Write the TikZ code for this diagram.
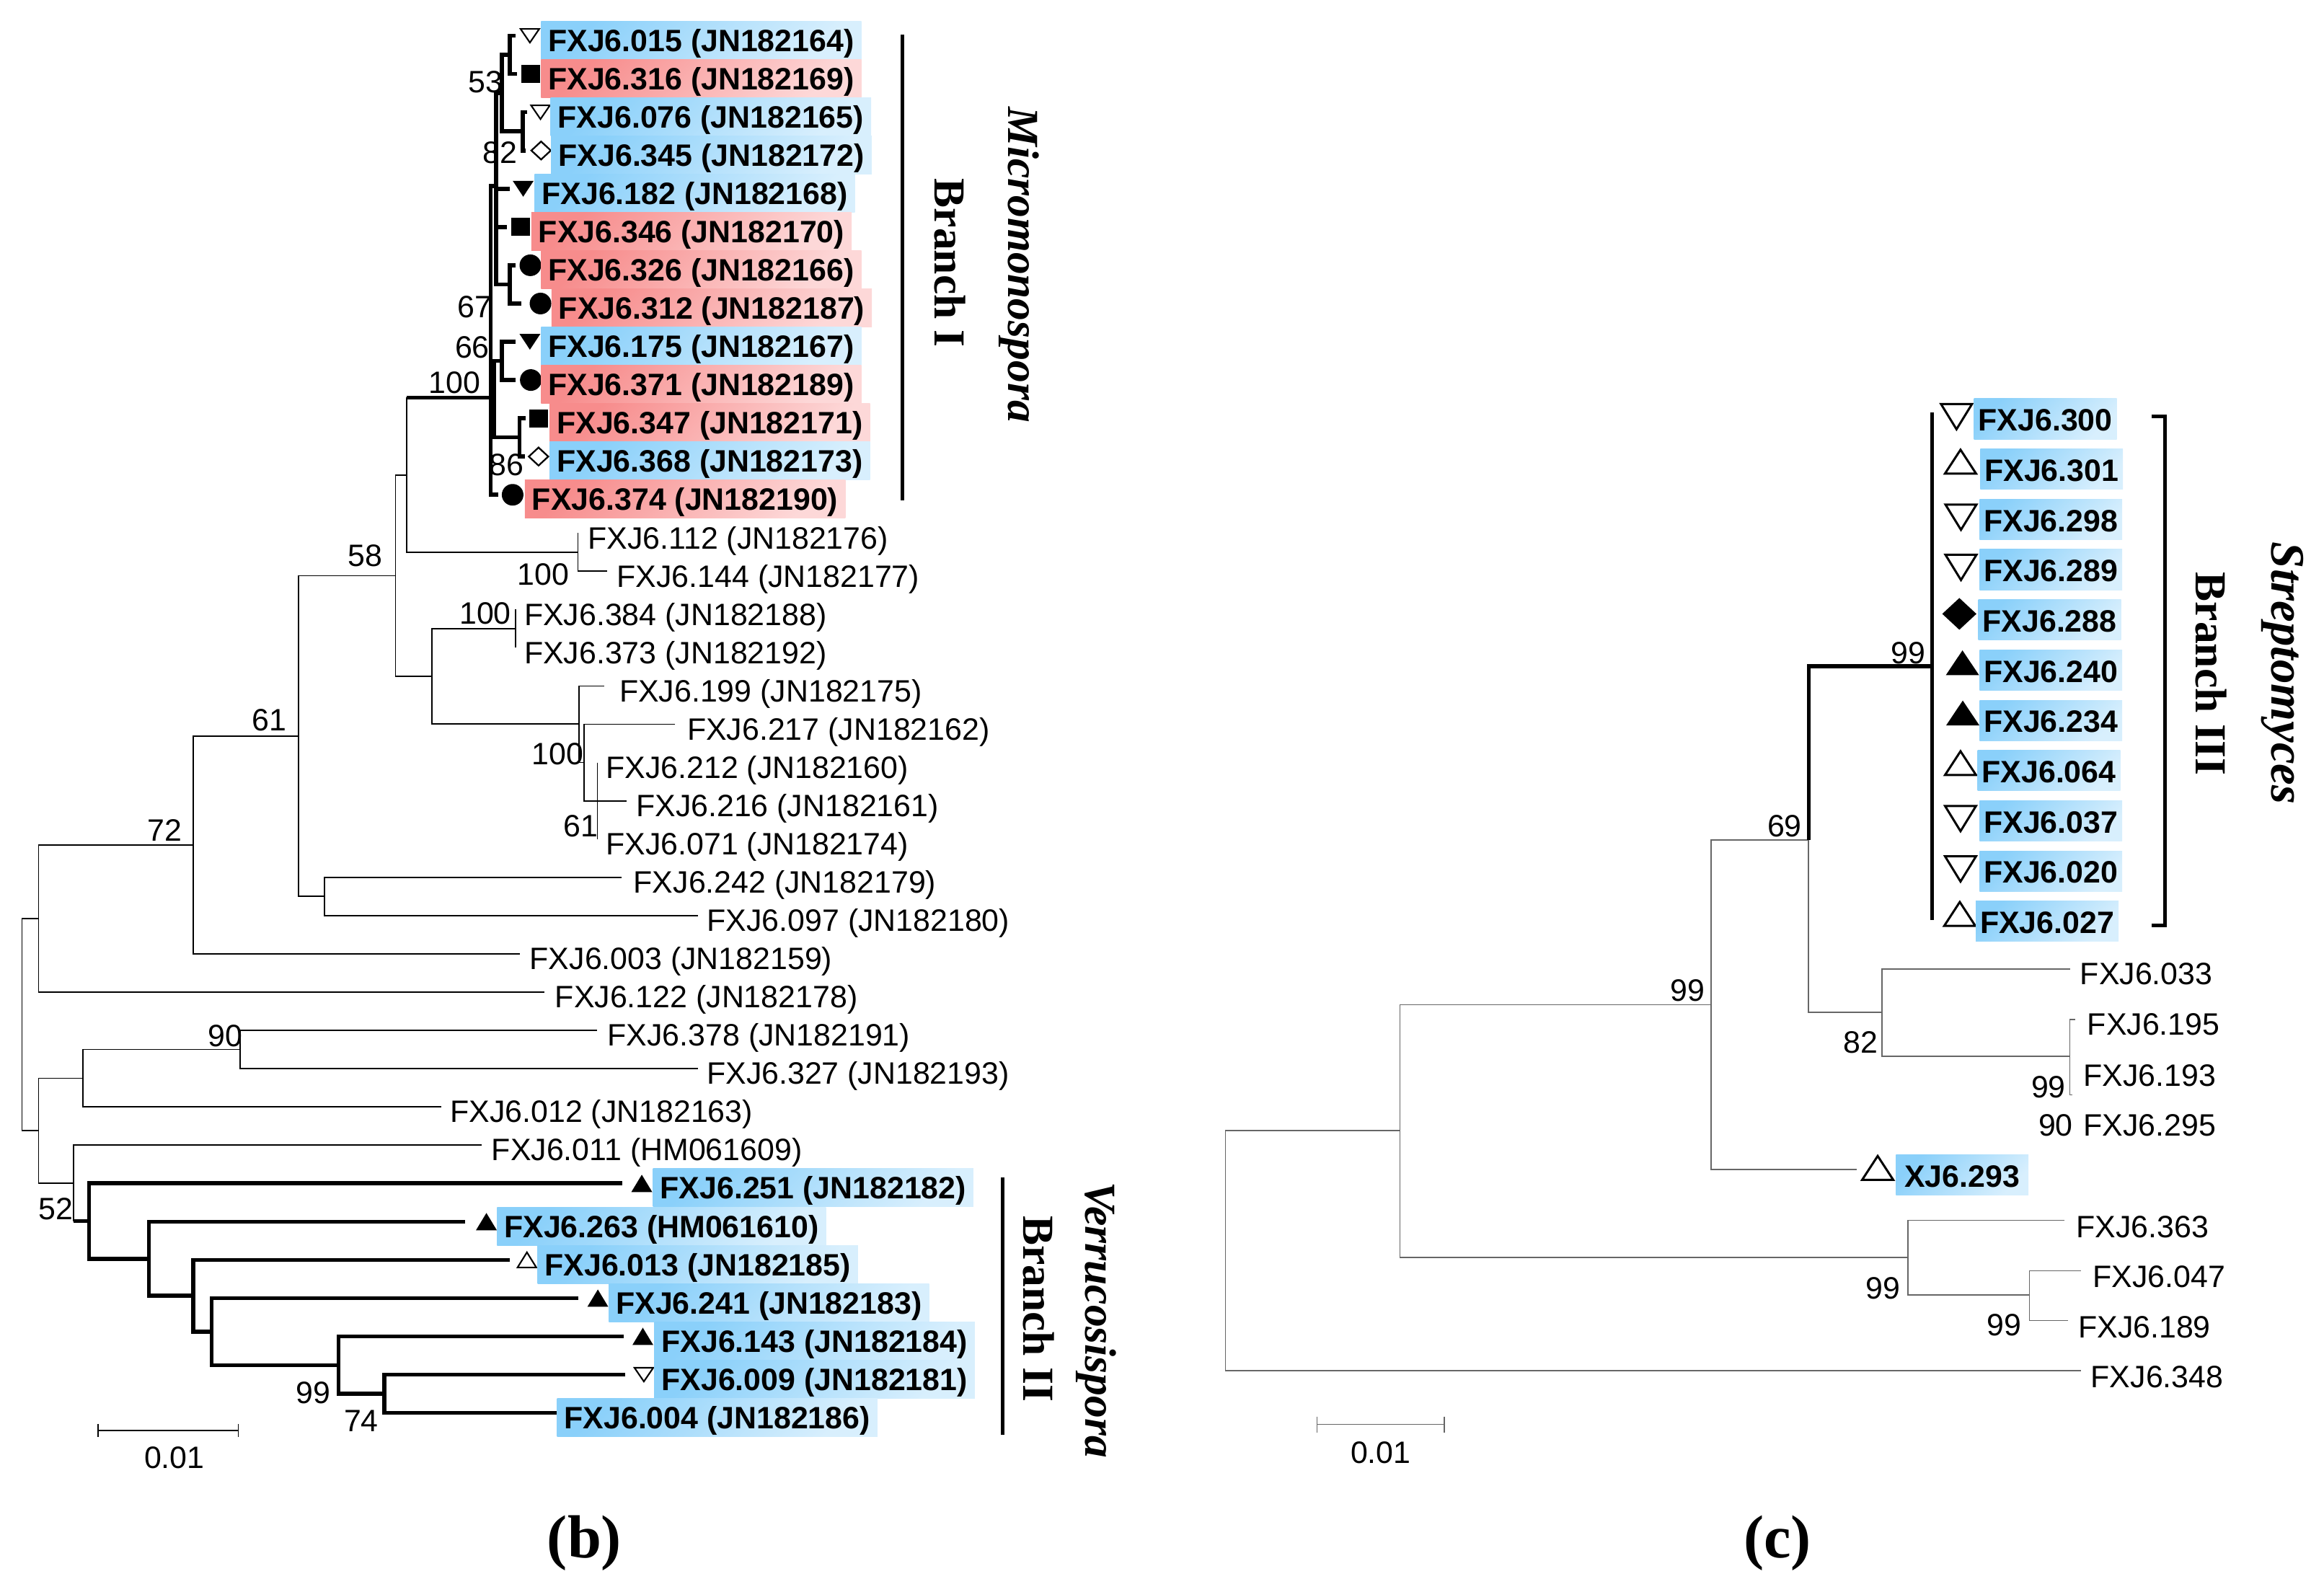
\documentclass[tikz,border=0pt]{standalone}
\usepackage{fontspec}
\setmainfont{Liberation Sans}
\newfontfamily\timesfont{Liberation Serif}
\definecolor{blueA}{RGB}{138,208,250}
\definecolor{blueB}{RGB}{216,239,253}
\definecolor{redA}{RGB}{247,140,140}
\definecolor{redB}{RGB}{253,216,216}
\tikzset{
  br/.style={line width=0.5pt},
  brk/.style={line width=1.6pt},
  brc/.style={line width=0.45pt, black!60},
  brck/.style={line width=1.5pt},
  bar/.style={line width=1.6pt},
  lab/.style={anchor=base west, inner sep=0pt, font=\fontsize{12.2}{14}\selectfont},
  hl/.style={lab, font=\fontsize{12.2}{14}\selectfont\bfseries, inner xsep=1mm, text height=4.2mm, text depth=1.1mm},
  hlb/.style={hl, top color=blueA, bottom color=blueB, shading angle=45},
  hlr/.style={hl, top color=redA, bottom color=redB, shading angle=45},
  hlc/.style={lab, font=\fontsize{12.2}{14}\selectfont\bfseries, inner xsep=0.6mm, text height=4.48mm, text depth=1.14mm, top color=blueA, bottom color=blueB, shading angle=45},
  bs/.style={anchor=east, inner sep=0pt, font=\fontsize{12.2}{14}\selectfont},
  clade/.style={anchor=base, inner sep=0pt, rotate=-90, font=\timesfont\fontsize{17.5}{20}\selectfont\bfseries},
  genus/.style={clade, font=\timesfont\fontsize{17.5}{20}\selectfont\bfseries\itshape},
  panel/.style={anchor=base, inner sep=0pt, font=\timesfont\fontsize{24}{28}\selectfont\bfseries},
  % small markers, panel b
  mkup/.pic={\fill (-1.45mm,-1.2mm) -- (1.45mm,-1.2mm) -- (0mm,1.2mm) -- cycle;},
  mkupo/.pic={\draw[line width=0.6pt] (-1.3mm,-1.05mm) -- (1.3mm,-1.05mm) -- (0mm,1.05mm) -- cycle;},
  mkdn/.pic={\fill (-1.45mm,1.1mm) -- (1.45mm,1.1mm) -- (0mm,-1.1mm) -- cycle;},
  mkdno/.pic={\draw[line width=0.6pt] (-1.3mm,0.95mm) -- (1.3mm,0.95mm) -- (0mm,-0.95mm) -- cycle;},
  mksq/.pic={\fill (-1.3mm,-1.25mm) rectangle (1.3mm,1.25mm);},
  mkci/.pic={\fill (0mm,0mm) circle (1.5mm);},
  mkdio/.pic={\draw[line width=0.65pt] (-1.35mm,0mm) -- (0mm,1.25mm) -- (1.35mm,0mm) -- (0mm,-1.25mm) -- cycle;},
  % big markers, panel c
  bigupo/.pic={\draw[line width=0.85pt] (-2.15mm,-1.65mm) -- (2.15mm,-1.65mm) -- (0mm,1.65mm) -- cycle;},
  bigdno/.pic={\draw[line width=0.85pt] (-2.15mm,1.75mm) -- (2.15mm,1.75mm) -- (0mm,-1.75mm) -- cycle;},
  bigup/.pic={\fill (-2.3mm,-1.72mm) -- (2.3mm,-1.72mm) -- (0mm,1.72mm) -- cycle;},
  bigdi/.pic={\fill (-2.37mm,0mm) -- (0mm,2.2mm) -- (2.37mm,0mm) -- (0mm,-2.2mm) -- cycle;},
}
\begin{document}
\begin{tikzpicture}[x=0.2066mm,y=-0.2066mm]
\useasboundingbox (0,0) rectangle (1560,1068.24);

%% ---------- panel (b) ----------
% inner nodes
\coordinate (r) at (14.8,687.8);
\coordinate (r1) at (25.9,616.6);
\coordinate (r2) at (25.9,759);
\coordinate (n72) at (129.6,567.2);
\coordinate (n61) at (200.5,494.1);
\coordinate (n58) at (265.5,386.5);
\coordinate (nA) at (272.9,318.8);
\coordinate (nC) at (289.8,454);
\coordinate (n100a) at (387.9,370.68);
\coordinate (n100b) at (346.2,422.04);
\coordinate (n100c) at (388.7,486);
\coordinate (nCC) at (392.1,511.9);
\coordinate (n61b) at (401,537.6);
\coordinate (nE) at (217.8,601.8);
\coordinate (n90p) at (55.5,723.8);
\coordinate (n90) at (161.1,704.52);
\coordinate (n52) at (49.4,794.2);
\coordinate (nV) at (59.8,819.7);
\coordinate (nV2) at (100,845);
\coordinate (nV3) at (129.6,869.8);
\coordinate (nV4) at (142,893.9);
\coordinate (n99) at (227.2,916.4);
\coordinate (n74) at (258,935.64);
% branch I
\coordinate (n100) at (329.3,266.9);
\coordinate (n67a) at (333,125);
\coordinate (n53) at (337,62.5);
\coordinate (n53a) at (342.3,36.84);
\coordinate (n82) at (350.9,88.2);
\coordinate (n326) at (342.3,190.9);
\coordinate (n66) at (331.5,268);
\coordinate (n66a) at (336.9,242.28);
\coordinate (n86) at (348.7,293.64);
% leaf ends
\coordinate (l015) at (346,24);
\coordinate (l316) at (347,49.68);
\coordinate (l076) at (354,75.36);
\coordinate (l345) at (353,101.04);
\coordinate (l182) at (342,126.72);
\coordinate (l346) at (340.5,152.4);
\coordinate (l326) at (346,178.08);
\coordinate (l312) at (350,203.76);
\coordinate (l175) at (346,229.44);
\coordinate (l371) at (346,255.12);
\coordinate (l347) at (353,280.8);
\coordinate (l368) at (352.5,306.48);
\coordinate (l374) at (334.5,332.16);
\coordinate (l112) at (387.9,357.84);
\coordinate (l144) at (407.4,383.52);
\coordinate (l384) at (346.2,409.2);
\coordinate (l373) at (346.2,434.88);
\coordinate (l199) at (405.6,460.56);
\coordinate (l217) at (453.2,486.24);
\coordinate (l212) at (401,511.92);
\coordinate (l216) at (420.6,537.6);
\coordinate (l071) at (401,563.28);
\coordinate (l242) at (417.4,588.96);
\coordinate (l097) at (468.5,614.64);
\coordinate (l003) at (349.2,640.32);
\coordinate (l122) at (365.5,666);
\coordinate (l378) at (400.7,691.68);
\coordinate (l327) at (468.5,717.36);
\coordinate (l012) at (296.3,743.04);
\coordinate (l011) at (323.3,768.72);
\coordinate (l251) at (417.5,794.4);
\coordinate (l263) at (312.3,820.08);
\coordinate (l013) at (342,845.76);
\coordinate (l241) at (388.2,871.44);
\coordinate (l143) at (418.6,897.12);
\coordinate (l009) at (419.8,922.8);
\coordinate (l004) at (373.6,948.48);

% thin branches
\draw[br] (r1) -| (r) |- (r2);
\draw[br] (n72) -| (r1) |- (l122);
\draw[br] (n61) -| (n72) |- (l003);
\draw[br] (n58) -| (n61) |- (nE);
\draw[br] (l242) -| (nE) |- (l097);
\draw[br] (nA) -| (n58) |- (nC);
\draw[br] (n100) -| (nA) |- (n100a);
\draw[br] (l112) -| (n100a) |- (l144);
\draw[br] (n100b) -| (nC) |- (n100c);
\draw[br] (l384) -- (l373);
\draw[br] (l199) -| (n100c) |- (nCC);
\draw[br] (l217) -| (nCC) |- (n61b);
\draw[br] (l212) -- (l071);
\draw[br] (n61b) -- (l216);
\draw[br] (n90p) -| (r2) |- (n52);
\draw[br] (n90) -| (n90p) |- (l012);
\draw[br] (l378) -| (n90) |- (l327);
\draw[br] (l011) -| (n52) |- (nV);
% thick branches
\draw[brk] (nA |- n100) -- (n100);
\draw[brk] (n67a) -| (n100) |- (l374);
\draw[brk] (n100 |- n66) -- (n66);
\draw[brk] (n53) -| (n67a) |- (n326);
\draw[brk] (n67a |- l182) -- (l182);
\draw[brk] (n67a |- l346) -- (l346);
\draw[brk] (n53a) -| (n53) |- (n82);
\draw[brk] (l015) -| (n53a) |- (l316);
\draw[brk] (l076) -| (n82) |- (l345);
\draw[brk] (l326) -| (n326) |- (l312);
\draw[brk] (n66a) -| (n66) |- (n86);
\draw[brk] (l175) -| (n66a) |- (l371);
\draw[brk] (l347) -| (n86) |- (l368);
\draw[brk] (n52 |- nV) -- (nV);
\draw[brk] (l251) -| (nV) |- (nV2);
\draw[brk] (l263) -| (nV2) |- (nV3);
\draw[brk] (l013) -| (nV3) |- (nV4);
\draw[brk] (l241) -| (nV4) |- (n99);
\draw[brk] (l143) -| (n99) |- (n74);
\draw[brk] (l009) -| (n74) |- (l004);

% markers
\pic at (355.7,24) {mkdno};
\pic at (356.3,49.68) {mksq};
\pic at (362.8,75.36) {mkdno};
\pic at (363.2,101.04) {mkdio};
\pic at (351.2,126.72) {mkdn};
\pic at (349.6,152.4) {mksq};
\pic at (356,178.08) {mkci};
\pic at (362.8,203.76) {mkci};
\pic at (355.7,229.44) {mkdn};
\pic at (356.3,255.12) {mkci};
\pic at (361.7,280.8) {mksq};
\pic at (361.5,306.48) {mkdio};
\pic at (344.1,332.16) {mkci};
\pic at (430.8,794.4) {mkup};
\pic at (326.5,820.08) {mkup};
\pic at (353.7,845.76) {mkupo};
\pic at (401.3,871.44) {mkup};
\pic at (431.5,897.12) {mkup};
\pic at (432.2,922.8) {mkdno};

% leaf labels
\node[hlb] (t015) at (362.8,34.5) {FXJ6.015 (JN182164)};
\node[hlr] (t316) at (362.8,60.18) {FXJ6.316 (JN182169)};
\node[hlb] (t076) at (369.3,85.86) {FXJ6.076 (JN182165)};
\node[hlb] (t345) at (369.7,111.54) {FXJ6.345 (JN182172)};
\node[hlb] (t182) at (358.5,137.22) {FXJ6.182 (JN182168)};
\node[hlr] (t346) at (356.3,162.9) {FXJ6.346 (JN182170)};
\node[hlr] (t326) at (362.8,188.58) {FXJ6.326 (JN182166)};
\node[hlr] (t312) at (369.9,214.26) {FXJ6.312 (JN182187)};
\node[hlb] (t175) at (362.8,239.94) {FXJ6.175 (JN182167)};
\node[hlr] (t371) at (362.8,265.62) {FXJ6.371 (JN182189)};
\node[hlr] (t347) at (368.6,291.3) {FXJ6.347 (JN182171)};
\node[hlb] (t368) at (368.6,316.98) {FXJ6.368 (JN182173)};
\node[hlr] (t374) at (352,342.66) {FXJ6.374 (JN182190)};
\node[lab] (t112) at (394.4,368.34) {FXJ6.112 (JN182176)};
\node[lab] (t144) at (413.8,394.02) {FXJ6.144 (JN182177)};
\node[lab] (t384) at (351.6,419.7) {FXJ6.384 (JN182188)};
\node[lab] (t373) at (351.6,445.38) {FXJ6.373 (JN182192)};
\node[lab] (t199) at (415.5,471.06) {FXJ6.199 (JN182175)};
\node[lab] (t217) at (461,496.74) {FXJ6.217 (JN182162)};
\node[lab] (t212) at (406.4,522.42) {FXJ6.212 (JN182160)};
\node[lab] (t216) at (426.7,548.1) {FXJ6.216 (JN182161)};
\node[lab] (t071) at (406.4,573.78) {FXJ6.071 (JN182174)};
\node[lab] (t242) at (425,599.46) {FXJ6.242 (JN182179)};
\node[lab] (t097) at (474.3,625.14) {FXJ6.097 (JN182180)};
\node[lab] (t003) at (355.3,650.82) {FXJ6.003 (JN182159)};
\node[lab] (t122) at (372.3,676.5) {FXJ6.122 (JN182178)};
\node[lab] (t378) at (407.5,702.18) {FXJ6.378 (JN182191)};
\node[lab] (t327) at (474.1,727.86) {FXJ6.327 (JN182193)};
\node[lab] (t012) at (301.9,753.54) {FXJ6.012 (JN182163)};
\node[lab] (t011) at (329.7,779.22) {FXJ6.011 (HM061609)};
\node[hlb] (t251) at (438,804.9) {FXJ6.251 (JN182182)};
\node[hlb] (t263) at (333.3,830.58) {FXJ6.263 (HM061610)};
\node[hlb] (t013) at (360.5,856.26) {FXJ6.013 (JN182185)};
\node[hlb] (t241) at (408.3,881.94) {FXJ6.241 (JN182183)};
\node[hlb] (t143) at (438.9,907.62) {FXJ6.143 (JN182184)};
\node[hlb] (t009) at (438.9,933.3) {FXJ6.009 (JN182181)};
\node[hlb] (t004) at (373.6,958.98) {FXJ6.004 (JN182186)};

% bootstrap values
\node[bs] (b100) at (322.8,257.1) {100};
\node[bs] (b53) at (337.9,55.1) {53};
\node[bs] (b82) at (347.7,102.6) {82};
\node[bs] (b67) at (330.4,206.3) {67};
\node[bs] (b66) at (328.9,233.4) {66};
\node[bs] (b86) at (351.9,312.2) {86};
\node[bs] (b58) at (256.8,372.9) {58};
\node[bs] (b61) at (192.6,483.4) {61};
\node[bs] (b72) at (122.3,557.5) {72};
\node[bs] (b100a) at (382.3,385.5) {100};
\node[bs] (b100b) at (343.4,412) {100};
\node[bs] (b100c) at (392,506.4) {100};
\node[bs] (b61b) at (401.8,554.5) {61};
\node[bs] (b90) at (162.9,695.6) {90};
\node[bs] (b52) at (49.4,811.4) {52};
\node[bs] (b99) at (222.2,934.9) {99};
\node[bs] (b74) at (254.3,954) {74};

% clade bars
\draw[bar] (605.8,23.3) -- (605.8,336);
\node[clade] (brI) at (627.6,176.6) {Branch I};
\node[genus] (micro) at (677,177.7) {Micromonospora};
\draw[bar] (673.1,790.6) -- (673.1,963.2);
\node[clade] (brII) at (687,878.5) {Branch II};
\node[genus] (verru) at (728.5,886) {Verrucosispora};

% scale bar
\coordinate (sbl) at (65.9,960.2);
\coordinate (sbr) at (160,960.2);
\draw[br] (sbl) -- (sbr);
\draw[br] ([yshift=0.9mm]sbl) -- ([yshift=-0.9mm]sbl);
\draw[br] ([yshift=0.9mm]sbr) -- ([yshift=-0.9mm]sbr);
\node[bs, anchor=center] (sbt) at (117,978.6) {0.01};

\node[panel] (capb) at (392.3,1045.6) {(b)};

%% ---------- panel (c) ----------
\coordinate (c0) at (822.6,839.5);
\coordinate (c1) at (939.8,758.8);
\coordinate (c99a) at (1148.5,674.4);
\coordinate (c69) at (1214,563.9);
\coordinate (c99b) at (1297,447.2);
\coordinate (c82) at (1263.3,679.6);
\coordinate (c99c) at (1389.4,709);
\coordinate (c90) at (1391,735);
\coordinate (c99d) at (1280.7,844.1);
\coordinate (c99e) at (1362.2,869.3);
\coordinate (e033) at (1389.4,650.5);
\coordinate (e195) at (1393,684.3);
\coordinate (e363) at (1385.9,819.1);
\coordinate (e047) at (1396.8,853);
\coordinate (e189) at (1388,886.5);
\coordinate (e348) at (1396.8,920.2);
\coordinate (e293) at (1246.1,785.1);
\coordinate (s300) at (1297,276.8);
\coordinate (s027) at (1297,617.6);

\draw[brc] (c1) -| (c0) |- (e348);
\draw[brc] (c99a) -| (c1) |- (c99d);
\draw[brc] (c69) -| (c99a) |- (e293);
\draw[brc] (c69) |- (c82);
\draw[brck] (c69) |- (c99b);
\draw[brck] (s300) -- (s027);
\draw[brc] (e033) -| (c82) |- (c99c);
\draw[brc] (e195) -| (c99c) |- (c90);
\draw[brc] (e363) -| (c99d) |- (c99e);
\draw[brc] (e047) -| (c99e) |- (e189);

% markers
\pic at (1313.3,279.7) {bigdno};
\pic at (1316,309.9) {bigupo};
\pic at (1316.3,347.2) {bigdno};
\pic at (1316.3,380.9) {bigdno};
\pic at (1315.2,412.1) {bigdi};
\pic at (1317.3,444.9) {bigup};
\pic at (1317.5,478.6) {bigup};
\pic at (1316,512.3) {bigupo};
\pic at (1316,549.5) {bigdno};
\pic at (1316,583.3) {bigdno};
\pic at (1315.5,613.5) {bigupo};
\pic at (1260.4,784) {bigupo};

% leaf labels
\node[hlc] (s300t) at (1324.7,289.3) {FXJ6.300};
\node[hlc] (s301t) at (1328.9,323) {FXJ6.301};
\node[hlc] (s298t) at (1328.4,356.8) {FXJ6.298};
\node[hlc] (s289t) at (1328.4,390.5) {FXJ6.289};
\node[hlc] (s288t) at (1327.6,424.2) {FXJ6.288};
\node[hlc] (s240t) at (1328.4,458) {FXJ6.240};
\node[hlc] (s234t) at (1328.4,491.7) {FXJ6.234};
\node[hlc] (s064t) at (1327.1,525.4) {FXJ6.064};
\node[hlc] (s037t) at (1328.4,559.1) {FXJ6.037};
\node[hlc] (s020t) at (1328.4,592.9) {FXJ6.020};
\node[hlc] (s027t) at (1325.9,626.6) {FXJ6.027};
\node[hlc, inner xsep=1.2mm] (s293t) at (1272.3,796.9) {XJ6.293};
\node[lab] (s033t) at (1396,661.1) {FXJ6.033};
\node[lab] (s195t) at (1400.8,694.9) {FXJ6.195};
\node[lab] (s193t) at (1398.3,729) {FXJ6.193};
\node[lab] (s295t) at (1398.3,762.8) {FXJ6.295};
\node[lab] (s363t) at (1393.3,830.7) {FXJ6.363};
\node[lab] (s047t) at (1404.6,864.3) {FXJ6.047};
\node[lab] (s189t) at (1394.7,898.2) {FXJ6.189};
\node[lab] (s348t) at (1403.2,931.5) {FXJ6.348};

% bootstrap values
\node[bs] (c99bt) at (1292.6,438.6) {99};
\node[bs] (c69t) at (1209.8,554.6) {69};
\node[bs] (c99at) at (1144.6,665) {99};
\node[bs] (c82t) at (1260.9,700) {82};
\node[bs] (c99ct) at (1386.9,729.6) {99};
\node[bs] (c90t) at (1391.8,755.6) {90};
\node[bs] (c99dt) at (1275.7,864.8) {99};
\node[bs] (c99et) at (1357.2,889.5) {99};

% clade bracket
\draw[brck] (1444.5,279.5) -- (1453.1,279.5) -- (1453.1,621.3) -- (1444.5,621.3);
\node[clade] (brIII) at (1474,452.5) {Branch III};
\node[genus, font=\timesfont\fontsize{19}{22}\selectfont\bfseries\itshape] (strep) at (1525,451.9) {Streptomyces};

% scale bar
\coordinate (sbl2) at (884,956.2);
\coordinate (sbr2) at (969.5,956.2);
\draw[brc] (sbl2) -- (sbr2);
\draw[brc] ([yshift=1.1mm]sbl2) -- ([yshift=-1.1mm]sbl2);
\draw[brc] ([yshift=1.1mm]sbr2) -- ([yshift=-1.1mm]sbr2);
\node[bs, anchor=center] (sbt2) at (926.8,975) {0.01};

\node[panel] (capc) at (1193.2,1045.6) {(c)};
\end{tikzpicture}
\end{document}
